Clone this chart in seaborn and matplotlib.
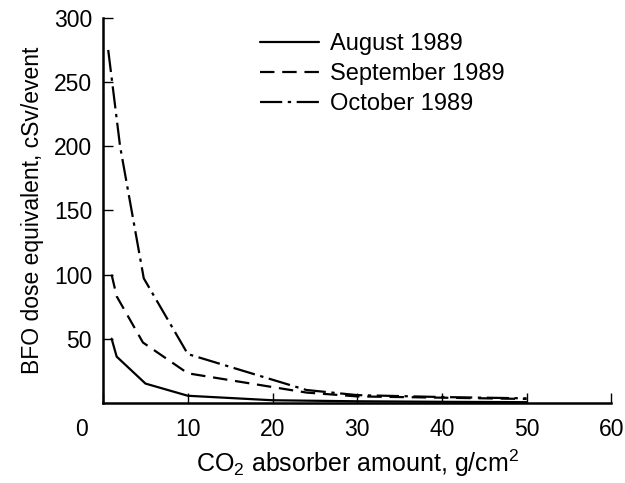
import numpy as np
import pandas as pd
import seaborn as sns
import matplotlib.pyplot as plt
import matplotlib.transforms as mtransforms

# values
aug_x = [1, 1.6, 5, 10, 20, 30, 40, 50]
aug_y = [50, 36, 15, 5.5, 2, 1.2, 0.8, 0.5]
sep_x = [1, 1.6, 4.7, 10, 24, 30, 40, 50]
sep_y = [100, 83, 47, 23, 8, 5, 4, 3]
oct_x = [0.6, 2, 4.8, 10, 24, 30, 40, 50]
oct_y = [275, 200, 97, 38, 10, 6, 4.5, 3.5]
labels = ["August 1989", "September 1989", "October 1989"]

df = pd.concat([
    pd.DataFrame({"x": aug_x, "y": aug_y, "month": labels[0]}),
    pd.DataFrame({"x": sep_x, "y": sep_y, "month": labels[1]}),
    pd.DataFrame({"x": oct_x, "y": oct_y, "month": labels[2]}),
], ignore_index=True)

sns.set_theme(style="ticks")
plt.rcParams['font.family'] = ['Liberation Sans', 'DejaVu Sans']
plt.rcParams['mathtext.default'] = 'regular'
plt.rcParams['text.color'] = 'black'
plt.rcParams['axes.labelcolor'] = 'black'
plt.rcParams['xtick.color'] = 'black'
plt.rcParams['ytick.color'] = 'black'

fig = plt.figure(figsize=(6.25, 4.83), dpi=100)
ax = fig.add_axes([0.165, 0.166, 0.813, 0.797])

dash_map = {labels[0]: "", labels[1]: (6.5, 3.5), labels[2]: (10, 2.5, 1.5, 2.5)}
sns.lineplot(data=df, x="x", y="y", style="month", dashes=dash_map,
             color="black", linewidth=1.6, sort=False, estimator=None, ax=ax)

ax.set_xlim(0, 60)
ax.set_ylim(0, 300)
ax.set_xticks([0, 10, 20, 30, 40, 50, 60])
ax.set_yticks([50, 100, 150, 200, 250, 300])
ax.tick_params(direction="in", length=7, width=1, labelsize=16.5)
ax.tick_params(axis="x", pad=11)
ax.tick_params(axis="y", pad=8)
for s in ["top", "right"]:
    ax.spines[s].set_visible(False)
for s in ["left", "bottom"]:
    ax.spines[s].set_linewidth(1.8)
    ax.spines[s].set_color("black")

# shift the origin "0" a bit left, like the original
off = mtransforms.ScaledTranslation(-22 / 100, 0, fig.dpi_scale_trans)
lab0 = ax.get_xticklabels()[0]
lab0.set_transform(lab0.get_transform() + off)

ax.set_xlabel(r"CO$_2$ absorber amount, g/cm$^2$", fontsize=18, labelpad=5)
ax.set_ylabel("BFO dose equivalent, cSv/event", fontsize=16.5, labelpad=7)

ax.legend(frameon=False, loc="upper left", bbox_to_anchor=(0.416, 0.932),
          bbox_transform=fig.transFigure, borderaxespad=0, borderpad=0,
          fontsize=17, handlelength=2.5, handletextpad=0.47, labelspacing=0.35)

fig.savefig("out.png", dpi=100)
